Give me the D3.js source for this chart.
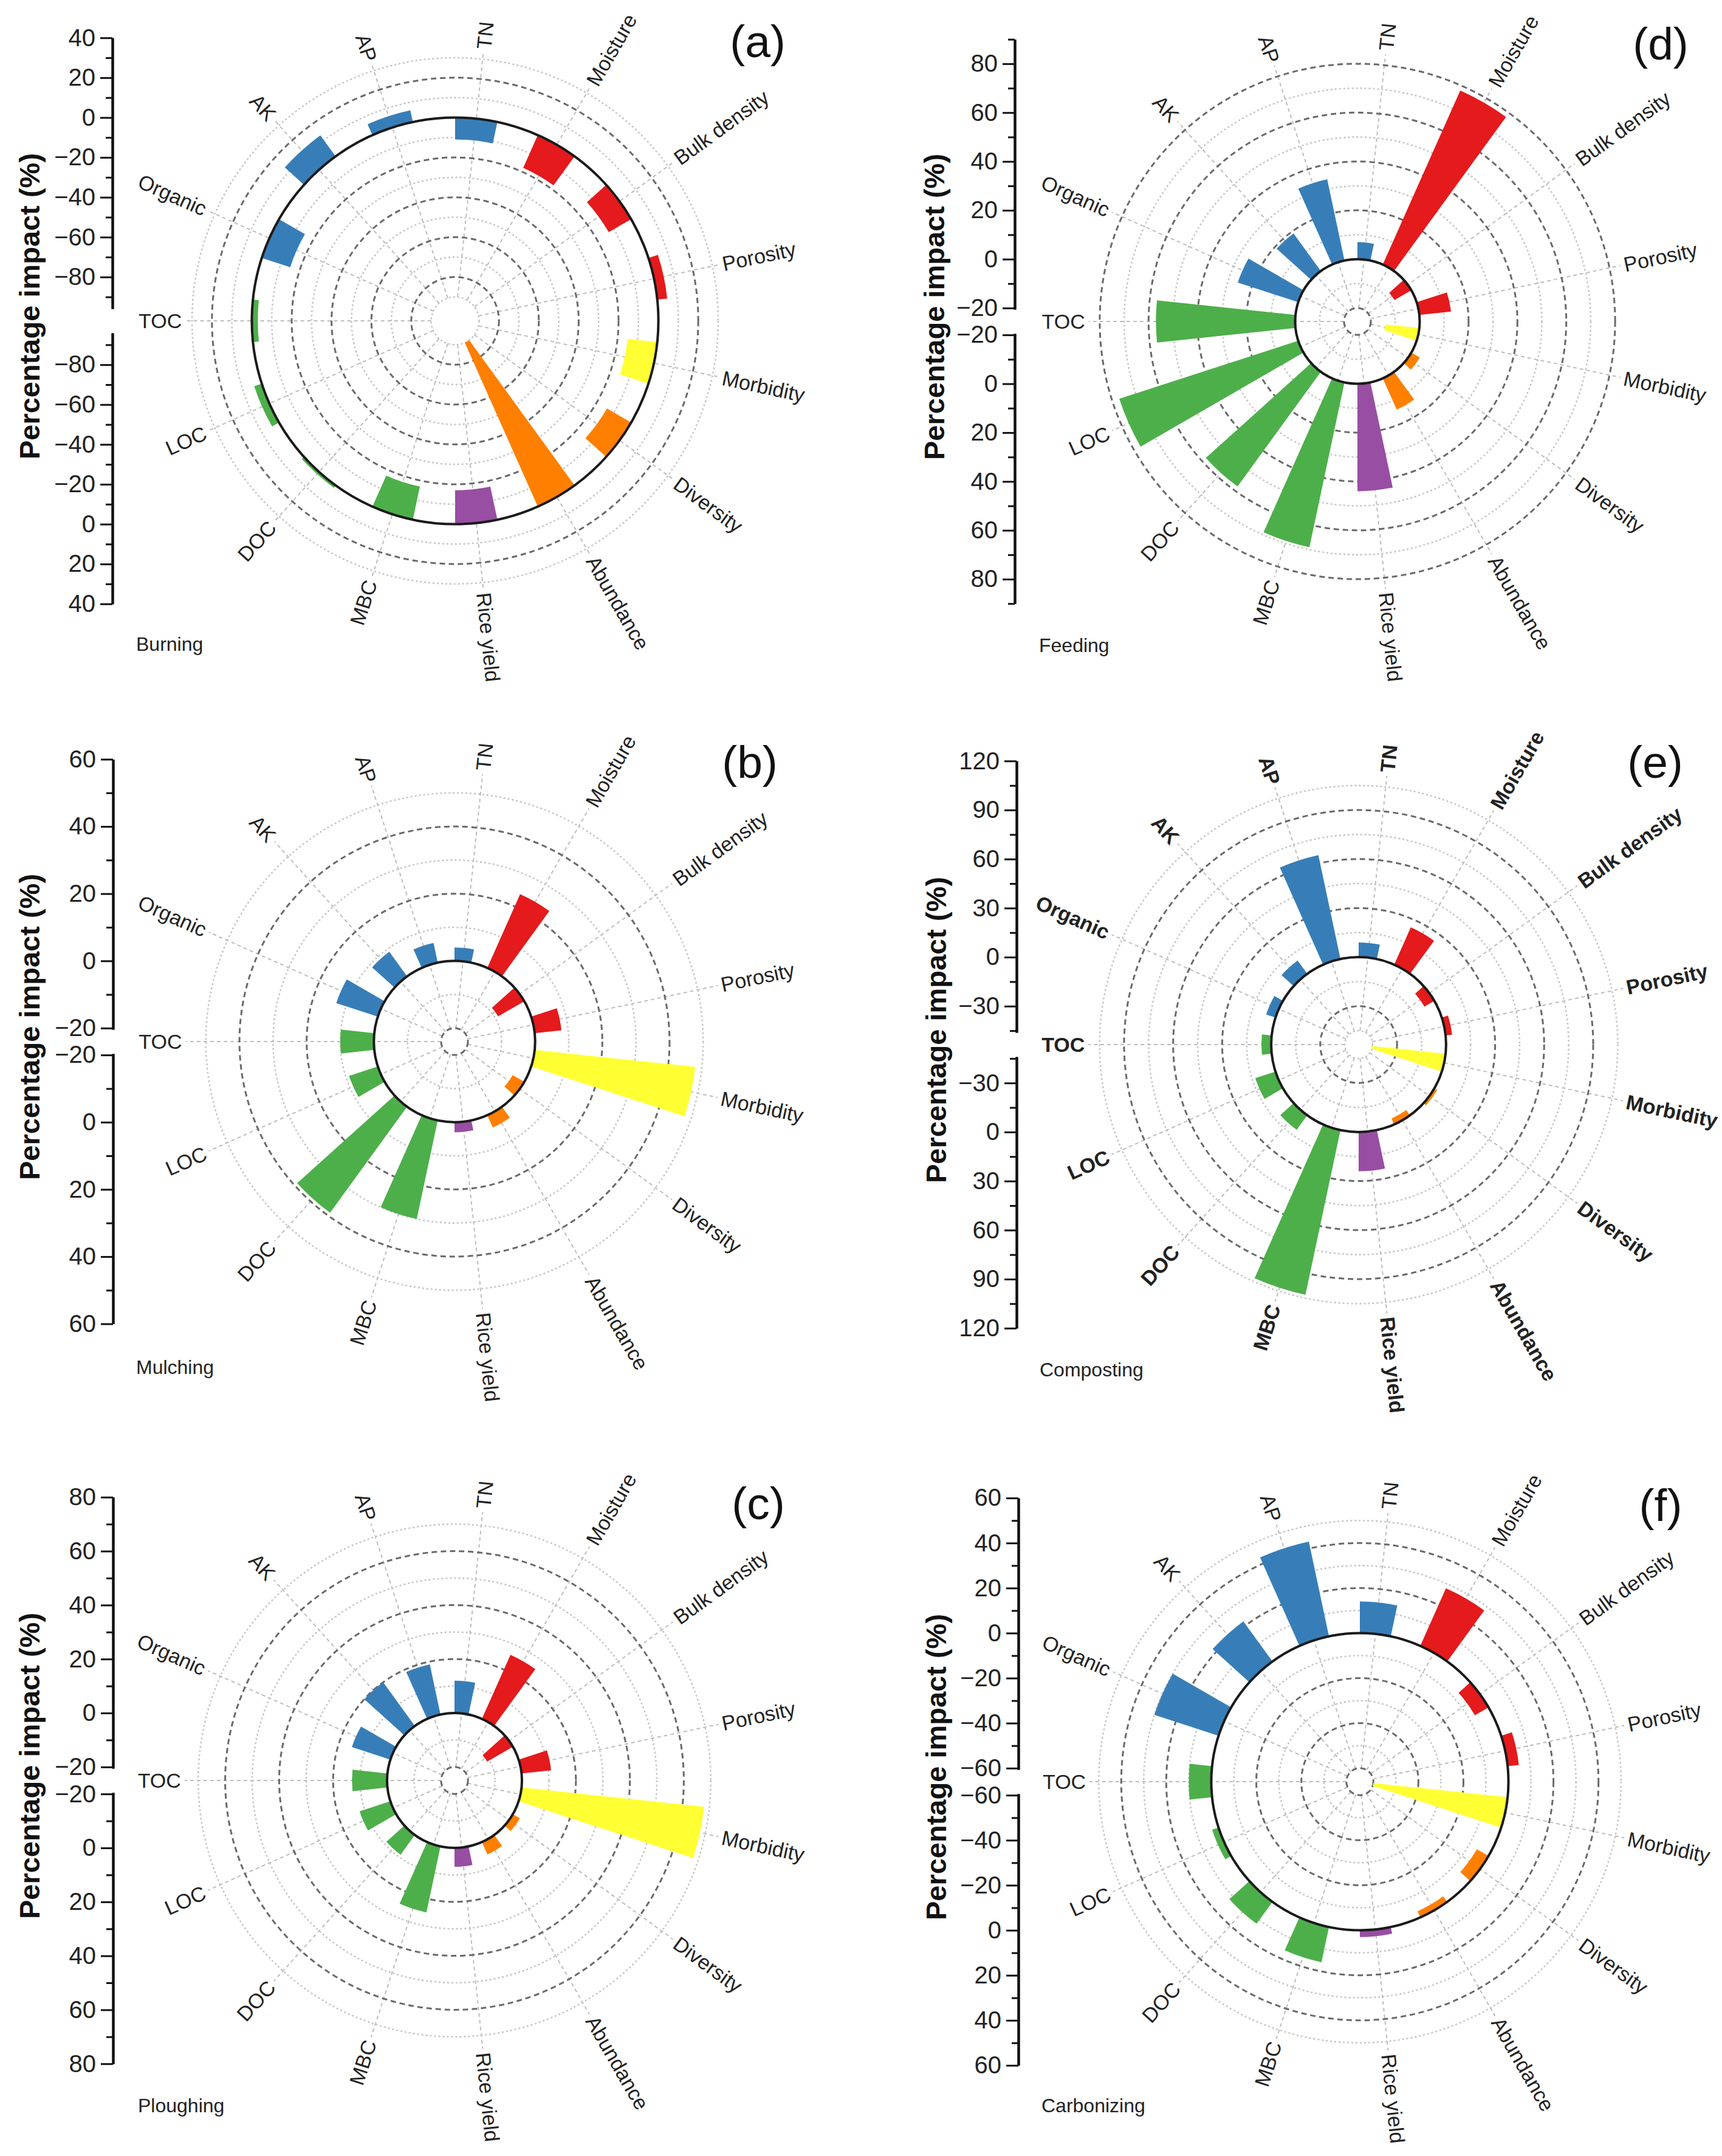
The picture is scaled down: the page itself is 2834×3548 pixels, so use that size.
<!DOCTYPE html>
<html lang="en">
<head>
	<meta charset="UTF-8">
	<title>Percentage impact - polar bar panels</title>
	<script src="https://cdn.jsdelivr.net/npm/d3@7/dist/d3.min.js"></script>
	<style>
		body { margin: 0; background: #fff; }
		svg text { font-family: Arial, "Liberation Sans", sans-serif; }
	</style>
</head>
<body>
	<div id="container"></div>

	<script>

			// categories, clockwise from the top
			var categories = ["TN", "Moisture", "Bulk density", "Porosity", "Morbidity", "Diversity",
				"Abundance", "Rice yield", "MBC", "DOC", "LOC", "TOC", "Organic", "AK", "AP"];
			var categoryGroup = ["blue", "red", "red", "red", "yellow", "orange", "orange", "purple",
				"green", "green", "green", "green", "blue", "blue", "blue"];

			// percentage impact per treatment, same order as categories
			var burning     = [-11, -18, -13, 5, -15, -14, -90, -17, -17, 1.5, 4, -3, -15, 13, 6];
			var mulching    = [4, 24, -9, 8, 48, -4, 4, 3, 30, 39, 9, 10, 13, 9, 6];
			var ploughing   = [12, 26, -11, 11, 68, 3, 5, 7, 25, 9, 12, 13, 15, 20, 19];
			var feeding     = [7, 78, -8, 13, -14, 4, 14, 44, 69, 58, 77, 57, 26, 19, 34];
			var composting  = [9, 25, -7, 4, -45, 2, -4, 24, 103, 11, 13, 6, 6, 10, 65];
			var carbonizing = [14, 28, -7, 5, -60, -6, -3, 3, 16, 12, 3, 10, 30, 22, 43];

			var treatments = ["Burning", "Mulching", "Ploughing", "Feeding", "Composting", "Carbonizing"];
			var panelLetters = ["(a)", "(b)", "(c)", "(d)", "(e)", "(f)"];
			var axisMax = [40, 60, 80, 90, 120, 60];
			var axisStep = [20, 20, 20, 20, 30, 20];
			var centreValue = [-102, -24, -25, -25.5, -53.5, -66];

			var groupColors = { blue: "#377eb8", red: "#e41a1c", yellow: "#ffff33",
				orange: "#ff7f00", purple: "#984ea3", green: "#4daf4a" };

			// layout of each panel on the page
			var layout = [
				{ cx: 749,  cy: 528,  k: 3.28,  axisX: 185,  titleX: 48,   letter: [1247, 68],   name: [224, 1060],  bold: false },
				{ cx: 748,  cy: 1714, k: 5.53,  axisX: 186,  titleX: 48,   letter: [1234, 1254], name: [224, 2250],  bold: false },
				{ cx: 748,  cy: 2930, k: 4.44,  axisX: 186,  titleX: 48,   letter: [1248, 2474], name: [227, 3465],  bold: false },
				{ cx: 2234, cy: 529,  k: 4.02,  axisX: 1670, titleX: 1537, letter: [2733, 72],   name: [1710, 1062], bold: false },
				{ cx: 2236, cy: 1719, k: 2.69,  axisX: 1673, titleX: 1540, letter: [2724, 1254], name: [1711, 2254], bold: true },
				{ cx: 2238, cy: 2932, k: 3.705, axisX: 1676, titleX: 1540, letter: [2733, 2477], name: [1714, 3465], bold: false }
			];
			var allValues = [burning, mulching, ploughing, feeding, composting, carbonizing];

			var width = 2834;
			var height = 3548;
			var firstAngle = 6;     // degrees, TN
			var angleStep = 24;
			var barWidth = 12;      // degrees
			var axisGap = 20;
			var fmt = d3.format("d");
			var toRad = Math.PI / 180;

			var svg = d3.select("#container").append("svg")
					.attr("width", width)
					.attr("height", height)
					.style("background", "#fff");

			for (var pi = 0; pi < layout.length; pi++) {
				drawPanel(pi);
			}

			function drawPanel(pi) {
				var p = layout[pi];
				var values = allValues[pi];
				var vmin = centreValue[pi];
				var vmax = axisMax[pi];
				var step = axisStep[pi];
				var minor = step / 2;

				var r = d3.scaleLinear()
					.domain([vmin, vmax])
					.range([0, (vmax - vmin) * p.k]);

				var labelR = r(vmax) - 16;
				var g = svg.append("g")
						.attr("transform", "translate(" + p.cx + "," + p.cy + ")");

				// rings every half step, up to max - half step
				var rings = d3.range(Math.ceil(vmin / minor) * minor, vmax - minor + 0.001, minor)
					.filter(function(v){ return r(v) > 15 && Math.abs(v) > 1e-9; });
				var innerR = d3.min(rings, function(v){ return r(v); });

				// radial grid lines
				g.selectAll(".spoke").data(categories).enter().append("line")
					.attr("class", "spoke")
					.attr("x1", function(d,i){ return innerR * Math.sin((firstAngle + i * angleStep) * toRad); })
					.attr("y1", function(d,i){ return -innerR * Math.cos((firstAngle + i * angleStep) * toRad); })
					.attr("x2", function(d,i){ return (labelR - 6) * Math.sin((firstAngle + i * angleStep) * toRad); })
					.attr("y2", function(d,i){ return -(labelR - 6) * Math.cos((firstAngle + i * angleStep) * toRad); })
					.attr("stroke", "#bdbdbd")
					.attr("stroke-width", 2)
					.attr("stroke-dasharray", "6,5");

				g.selectAll(".ring").data(rings).enter().append("circle")
					.attr("class", "ring")
					.attr("r", function(d){ return r(d); })
					.attr("fill", "none")
					.attr("stroke", function(d){ return isMajor(d, step) ? "#6a6a6a" : "#c6c6c6"; })
					.attr("stroke-width", function(d){ return isMajor(d, step) ? 3 : 2.6; })
					.attr("stroke-dasharray", function(d){ return isMajor(d, step) ? "9,6" : "3,4"; });

				// bars
				var arc = d3.arc();
				g.selectAll(".bar").data(values).enter().append("path")
					.attr("class", "bar")
					.attr("d", function(d,i){
						var a = (firstAngle + i * angleStep) * toRad;
						return arc({
							innerRadius: Math.min(r(0), r(d)),
							outerRadius: Math.max(r(0), r(d)),
							startAngle: a - barWidth / 2 * toRad,
							endAngle: a + barWidth / 2 * toRad
						});
					})
					.attr("fill", function(d,i){ return groupColors[categoryGroup[i]]; });

				// zero line
				g.append("circle")
					.attr("r", r(0))
					.attr("fill", "none")
					.attr("stroke", "#1a1a1a")
					.attr("stroke-width", 4);

				// category labels
				g.selectAll(".cat").data(categories).enter().append("text")
					.attr("class", "cat")
					.attr("transform", function(d,i){
						var deg = firstAngle + i * angleStep;
						var x = labelR * Math.sin(deg * toRad);
						var y = -labelR * Math.cos(deg * toRad);
						var rot = deg < 180 ? deg - 90 : deg - 270;
						return "translate(" + x + "," + y + ") rotate(" + rot + ")";
					})
					.attr("text-anchor", function(d,i){ return firstAngle + i * angleStep < 180 ? "start" : "end"; })
					.attr("dominant-baseline", "central")
					.attr("font-size", 34)
					.attr("font-weight", p.bold ? "bold" : "normal")
					.attr("fill", "#222")
					.text(function(d){ return d; });

				// split radial axis on the left
				var vGap = r.invert(axisGap);
				var majors = d3.range(Math.ceil(vGap / step) * step, vmax + 0.001, step);
				var minors = d3.range(Math.ceil(vGap / minor) * minor, vmax + 0.001, minor)
					.filter(function(v){ return !isMajor(v, step); });

				var upper = d3.scaleLinear().domain([vGap, vmax]).range([-axisGap, -r(vmax)]);
				var lower = d3.scaleLinear().domain([vGap, vmax]).range([axisGap, r(vmax)]);

				[upper, lower].forEach(function(scale){
					var ax = svg.append("g")
							.attr("transform", "translate(" + p.axisX + "," + p.cy + ")");
					ax.append("g").call(d3.axisLeft(scale).tickValues(minors).tickSize(11).tickSizeOuter(0).tickFormat(""));
					ax.append("g").call(d3.axisLeft(scale).tickValues(majors).tickSize(20).tickSizeOuter(0)
						.tickPadding(8).tickFormat(fmt))
						.attr("font-size", 40)
						.attr("font-family", "Arial, 'Liberation Sans', sans-serif");
					ax.selectAll(".domain").attr("stroke", "#111").attr("stroke-width", 4);
					ax.selectAll(".tick line").attr("stroke", "#111").attr("stroke-width", 3);
					ax.selectAll(".tick text").attr("fill", "#222");
				});

				svg.append("text")
					.attr("transform", "translate(" + p.titleX + "," + (p.cy - 24) + ") rotate(-90)")
					.attr("text-anchor", "middle")
					.attr("dominant-baseline", "central")
					.attr("font-size", 47)
					.attr("font-weight", "bold")
					.attr("fill", "#111")
					.text("Percentage impact (%)");

				svg.append("text")
					.attr("x", p.letter[0])
					.attr("y", p.letter[1])
					.attr("text-anchor", "middle")
					.attr("dominant-baseline", "central")
					.attr("font-size", 75)
					.attr("fill", "#111")
					.text(panelLetters[pi]);

				svg.append("text")
					.attr("x", p.name[0])
					.attr("y", p.name[1])
					.attr("dominant-baseline", "central")
					.attr("font-size", 32)
					.attr("fill", "#222")
					.text(treatments[pi]);
			}

			function isMajor(v, step) {
				return Math.abs(Math.round(v / step) * step - v) < 1e-6;
			}

	</script>
</body>
</html>
